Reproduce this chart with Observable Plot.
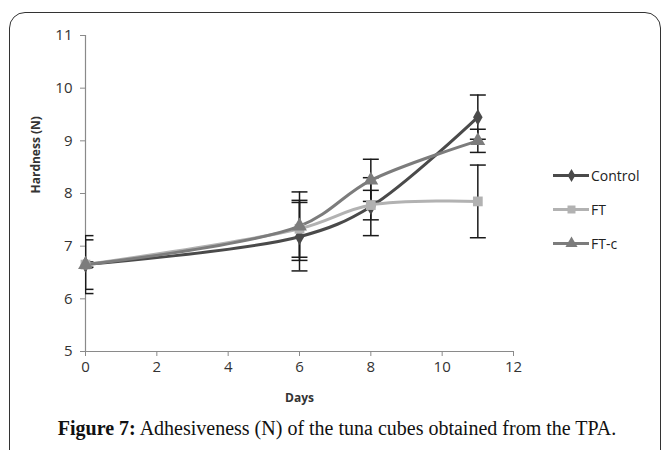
<!DOCTYPE html>
<html>
<head>
<meta charset="utf-8">
<script src="https://cdn.jsdelivr.net/npm/d3@7"></script>
<script src="https://cdn.jsdelivr.net/npm/@observablehq/plot@0.6"></script>
<style>
  html, body { margin: 0; padding: 0; background: #fff; }
  #wrap { position: relative; width: 662px; height: 450px; overflow: hidden; background: #fff; }
  #frame { position: absolute; left: 9px; top: 12px; width: 652px; height: 480px; border: 1.3px solid #333; border-radius: 16px; box-sizing: border-box; }
  #chart { position: absolute; left: 0; top: 0; }
  #caption { position: absolute; left: 6px; width: 662px; top: 417px; text-align: center; font-family: "Liberation Serif", serif; font-size: 20px; color: #111; white-space: nowrap; }
  #legend { position: absolute; left: 553px; top: 158px; font-family: "Open Sans", sans-serif; font-size: 14px; color: #222; }
  .item { display: flex; align-items: center; height: 34px; }
  .item svg { margin-right: 2px; }
  #chart svg g[aria-label="x-axis tick label"] text, #chart svg g[aria-label="y-axis tick label"] text { font-size: 15px; }
</style>
</head>
<body>
<div id="wrap">
  <div id="frame"></div>
  <div id="chart"></div>
  <div id="legend"></div>
  <div id="caption"><b>Figure 7:</b> Adhesiveness (N) of the tuna cubes obtained from the TPA.</div>
</div>
<script>
const days = [0, 6, 8, 11];
const series = ["Control", "FT", "FT-c"];
const controlValues = [6.65, 7.18, 7.75, 9.45];
const ftValues = [6.65, 7.33, 7.78, 7.85];
const ftcValues = [6.65, 7.38, 8.25, 9.0];
const controlErr = [0.55, 0.65, 0.55, 0.42];
const ftErr = [0.47, 0.54, 0.28, 0.69];
const ftcErr = [0.05, 0.65, 0.4, 0.22];
const xTicks = [0, 2, 4, 6, 8, 10, 12];
const yTicks = [5, 6, 7, 8, 9, 10, 11];

const colors = {"Control": "#4a4a4a", "FT": "#b2b2b2", "FT-c": "#7c7c7c"};
const symbols = {"Control": "diamond", "FT": "square", "FT-c": "triangle"};
const sizes = {"Control": 5, "FT": 5.5, "FT-c": 5.5};
const legendSizes = {"Control": 4, "FT": 4.5, "FT-c": 4.5};

const valueSets = [controlValues, ftValues, ftcValues];
const errSets = [controlErr, ftErr, ftcErr];
const data = [];
series.forEach((s, i) => {
  days.forEach((d, j) => {
    data.push({series: s, day: d, value: valueSets[i][j], lo: valueSets[i][j] - errSets[i][j], hi: valueSets[i][j] + errSets[i][j]});
  });
});

const capSymbol = {draw(ctx, size) { const w = Math.sqrt(size); ctx.moveTo(-w, 0); ctx.lineTo(w, 0); }};

const marks = [
  Plot.ruleY([5], {stroke: "#8a8a8a", strokeWidth: 1.2}),
  Plot.ruleX([0], {stroke: "#8a8a8a", strokeWidth: 1.2}),
  Plot.axisX({ticks: xTicks, tickFormat: "d", tickSize: 5, tickPadding: 5, stroke: "#8a8a8a", label: null, fontSize: 15, fill: "#333"}),
  Plot.axisY({ticks: yTicks, tickFormat: "d", tickSize: 5, tickPadding: 8, stroke: "#8a8a8a", label: null, fontSize: 15, fill: "#333"}),
  Plot.text(["Days"], {frameAnchor: "bottom", dy: 50, fontWeight: "bold", fontSize: 12, fill: "#333"}),
  Plot.text(["Hardness (N)"], {frameAnchor: "left", dx: -49, rotate: -90, fontWeight: "bold", fontSize: 12, fill: "#333"})
];
series.forEach(s => {
  const sd = data.filter(d => d.series === s);
  marks.push(Plot.ruleX(sd, {x: "day", y1: "lo", y2: "hi", stroke: "#1a1a1a", strokeWidth: 1.5, clip: true}));
  marks.push(Plot.dot(sd, {x: "day", y: "lo", symbol: capSymbol, r: 4.5, stroke: "#1a1a1a", strokeWidth: 1.5, clip: true}));
  marks.push(Plot.dot(sd, {x: "day", y: "hi", symbol: capSymbol, r: 4.5, stroke: "#1a1a1a", strokeWidth: 1.5, clip: true}));
});
series.forEach(s => {
  const sd = data.filter(d => d.series === s);
  marks.push(Plot.line(sd, {x: "day", y: "value", stroke: colors[s], strokeWidth: 3, curve: "catmull-rom"}));
});
series.forEach(s => {
  const sd = data.filter(d => d.series === s);
  marks.push(Plot.dot(sd, {x: "day", y: "value", symbol: symbols[s], r: sizes[s], fill: colors[s], stroke: "none"}));
});

const chart = Plot.plot({
  width: 662,
  height: 410,
  marginLeft: 85,
  marginRight: 149,
  marginTop: 35,
  marginBottom: 59,
  style: {background: "transparent", fontFamily: "'Open Sans', sans-serif", fontSize: "15px"},
  x: {domain: [0, 12]},
  y: {domain: [5, 11]},
  marks
});
document.getElementById("chart").appendChild(chart);

// legend
const legend = document.getElementById("legend");
series.forEach(s => {
  const item = document.createElement("div");
  item.className = "item";
  const sym = Plot.plot({
    width: 36, height: 20, margin: 0,
    x: {domain: [0, 1], axis: null}, y: {domain: [0, 1], axis: null},
    style: {background: "transparent"},
    marks: [
      Plot.ruleY([0.5], {x1: 0, x2: 1, stroke: colors[s], strokeWidth: 3}),
      Plot.dot([0.5], {x: d => d, y: 0.5, symbol: symbols[s], r: legendSizes[s], fill: colors[s], stroke: "none"})
    ]
  });
  item.appendChild(sym);
  const label = document.createElement("span");
  label.textContent = s;
  item.appendChild(label);
  legend.appendChild(item);
});
</script>
</body>
</html>
